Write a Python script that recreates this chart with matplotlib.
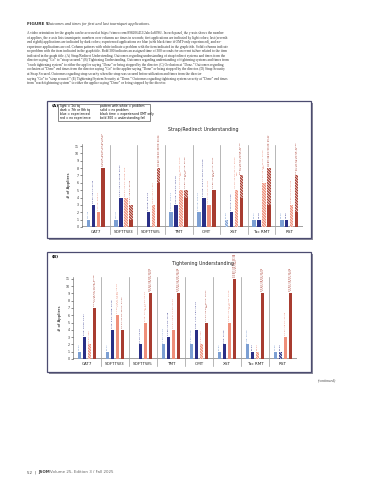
import numpy as np
import matplotlib.pyplot as plt
from matplotlib.patches import Rectangle

W, H = 369, 480

groups = ["CAT7", "SOFTTW3", "SOFTTW5", "TMT", "OMT", "XST", "Tac RMT", "RST"]

# Panel A: Strap/Redirect Understanding (solid part, patterned part)
a_lb_solid = [1, 1, 0, 2, 2, 0, 1, 1]
a_lb_hatch = [0, 0, 0, 0, 0, 1, 0, 0]
a_nv_solid = [3, 4, 2, 3, 4, 2, 1, 1]
a_nv_hatch = [0, 0, 0, 0, 0, 0, 0, 0]
a_sa_solid = [2, 0, 0, 0, 3, 0, 0, 0]
a_sa_hatch = [0, 4, 3, 5, 0, 5, 6, 3]
a_dr_solid = [8, 1, 6, 4, 5, 4, 3, 2]
a_dr_hatch = [0, 2, 2, 1, 0, 3, 5, 5]

a_lb_lab = ["121.35", "120.97", "", "120.61, 120.23", "116.75, 120.36", "20.68", "28.11", "36.25"]
a_nv_lab = ["63.25, 26.72, 24.43", "19.67, 26.05, 28.08, 20.34", "118.08, 113.48", "105.29, 119.19, 118.78",
            "113.86, 116.23, 120.40, 113.56", "119.14, 27.93", "31.78", "73.56"]
a_sa_lab = ["113.43, 226.47", "28.94, 22.66, 36.85, 300", "29.22, 30.17, 300", "54.49, 50.16, 38.84, 43.56, 300",
            "41.17, 37.76, 33.87", "41.18, 40.62, 51.17, 39.90, 300", "27.39, 35.18, 45.04, 40.63, 300",
            "92.65, 27.68, 54.95"]
a_dr_lab = ["113.28, 28.26, 25.28, 26.92, 43.19, 36.55, 42.75, 30.28", "25.37, 28.68, 30.39",
            "31.13, 34.87, 38.50, 41.27, 35.95, 43.81, 26.11, 22.56", "30.80, 46.84, 42.79, 36.39, 56.75",
            "30.85, 31.58, 25.77, 26.01, 34.87", "50.21, 34.97, 46.58, 39.70, 43.63, 47.14, 27.97",
            "41.69, 33.97, 50.42, 46.77, 29.87, 38.57, 44.24, 37.91", "36.41, 37.16, 52.55, 29.34, 50.29, 38.87, 27.44"]

# Panel B: Tightening Understanding
b_lb_solid = [1, 1, 0, 2, 2, 1, 2, 1]
b_lb_hatch = [0, 0, 0, 0, 0, 0, 0, 0]
b_nv_solid = [3, 4, 2, 3, 4, 2, 1, 0]
b_nv_hatch = [0, 0, 0, 0, 0, 0, 0, 1]
b_sa_solid = [0, 6, 5, 4, 0, 5, 0, 3]
b_sa_hatch = [2, 0, 0, 0, 2, 0, 1, 0]
b_dr_solid = [7, 4, 9, 9, 5, 11, 9, 9]
b_dr_hatch = [0, 0, 0, 0, 0, 0, 0, 0]

b_lb_lab = ["13.92", "15.11", "", "21.58, 11.09", "13.65, 9.58", "10.81", "7.85, 26.69", "22.65"]
b_nv_lab = ["8.26, 13.80, 14.27", "9.42, 6.64, 28.88, 43.18", "10.18, 13.26", "11.95, 14.29, 19.48",
            "6.60, 7.48, 7.87, 13.35", "9.56, 11.06", "25.34", "18.33"]
b_sa_lab = ["26.99, 300", "17.06, 19.6, 13.65, 19.91, 24.13, 37.59", "8.45, 10.27, 13.63, 24.95, 25.11",
            "10.97, 26.8, 27.38, 37.87", "21.53, 300", "13.55, 24.20, 27.86, 13.15, 33.35", "29.34",
            "12.51, 18.97, 22.28"]
b_dr_lab = ["15.07, 26.63, 19.65, 35.68, 37.56, 24.26, 300", "15.44, 31.94, 38.27, 27.34",
            "20.13, 23.33, 29.84, 33.48, 25.31, 10.24, 19.96, 32.03, 300",
            "13.33, 17.78, 22.44, 16.73, 33.44, 28.48, 21.98, 30.13, 300", "27.44, 22.61, 30.14, 19.57, 300",
            "12.29, 16.98, 19.45, 27.51, 17.38, 11.48, 19.41, 22.98, 23.48, 27.37, 300",
            "13.44, 18.87, 21.84, 24.83, 18.69, 20.13, 27.14, 19.18, 300",
            "16.53, 19.89, 21.37, 12.49, 15.35, 16.58, 18.73, 22.11, 300"]

caption = [
    "A video orientation for the graphs can be accessed at https://vimeo.com/898206452/2abc1a8996/. In each panel, the y-axis shows the number",
    "of appliers, the x-axis lists tourniquets; numbers over columns are times in seconds; first applications are indicated by light colors; last (seventh",
    "and eighth) applications are indicated by dark colors; experienced applications are blue (with black time if OMT-only experienced), and no-",
    "experience applications are red. Column patterns with white indicate a problem with the item indicated in the graph title. Solid columns indicate",
    "no problem with the item indicated in the graph title. Bold 300 indicates an assigned time of 300 seconds for an event failure related to the item",
    "indicated in the graph title. (A) Strap/Redirect Understanding. Outcomes regarding understanding of strap/redirect systems and times from the",
    "director saying \u201cGo\u201d to \u201cstrap secured.\u201d (B) Tightening Understanding. Outcomes regarding understanding of tightening systems and times from",
    "\u201creach tightening system\u201d to either the applier saying \u201cDone\u201d or being stopped by the director. (C) Occlusion at \u201cDone.\u201d Outcomes regarding",
    "occlusion at \u201cDone\u201d and times from the director saying \u201cGo\u201d to the applier saying \u201cDone\u201d or being stopped by the director. (D) Strap Security",
    "at Strap Secured. Outcomes regarding strap security when the strap was secured before utilization and times from the director",
    "saying \u201cGo\u201d to \u201cstrap secured.\u201d (E) Tightening/System Security at \u201cDone.\u201d Outcomes regarding tightening system security at \u201cDone\u201d and times",
    "from \u201creach tightening system\u201d to either the applier saying \u201cDone\u201d or being stopped by the director.",
]

legend_left = ["light = 1st tq", "dark = 7th or 8th tq", "blue = experienced", "red = no experience"]
legend_right = ["pattern with white = problem", "solid = no problem",
                "black time = experienced OMT only", "bold 300 = understanding fail"]

colors = ["#7c9fd3", "#2a2f86", "#ef8f7a", "#a83c30"]
text_colors = ["#6f93cc", "#2a2f86", "#ea8570", "#a83c30"]
offsets = [-0.27, -0.09, 0.09, 0.27]
bw = 0.13

plt.rcParams['hatch.linewidth'] = 0.45
fig = plt.figure(figsize=(W / 100, H / 100), dpi=100)


def fx(x):
    return x / W


def fy(y):
    return 1 - y / H


def wrap(s):
    # times stacked in short columns above a bar
    parts = [p.strip() for p in s.split(",")]
    n = 3 if len(parts) > 8 else 4
    return "\n".join(", ".join(parts[i:i + n]) for i in range(0, len(parts), n))


# page text
fig.text(fx(27), fy(24), "FIGURE 5", fontsize=3.1, fontweight="bold", family="DejaVu Sans",
         color="#333333", va="center")
fig.text(fx(47), fy(24), "Outcomes and times for first and last tourniquet applications.", fontsize=3.0,
         style="italic", family="Liberation Serif", color="#333333", va="center")
for i, line in enumerate(caption):
    fig.text(fx(27), fy(33 + i * 4.55), line, fontsize=2.55, family="Liberation Serif",
             color="#333333", va="center")

fig.text(fx(27), fy(472), "52  |  ", fontsize=2.9, color="#444444", va="center")
fig.text(fx(38), fy(472), "JSOM", fontsize=2.9, fontweight="bold", color="#444444", va="center")
fig.text(fx(50), fy(472), "Volume 25, Edition 3 / Fall 2025", fontsize=2.9, color="#666666", va="center")
fig.text(fx(318), fy(380), "(continued)", fontsize=2.8, style="italic", family="Liberation Serif",
         color="#444444", va="center")


def panel_box(x0, y0, x1, y1, label):
    sh = Rectangle((fx(x0 + 2), fy(y1 + 2)), fx(x1 - x0), (y1 - y0) / H, transform=fig.transFigure,
                   facecolor="#8c8c9c", edgecolor="none", zorder=-3)
    fig.patches.append(sh)
    box = Rectangle((fx(x0), fy(y1)), fx(x1 - x0), (y1 - y0) / H, transform=fig.transFigure,
                    facecolor="white", edgecolor="#4c4c70", lw=0.9, zorder=-2)
    fig.patches.append(box)
    fig.text(fx(x0 + 5), fy(y0 + 5), label, fontsize=3.0, fontweight="bold", va="center")


panel_box(47, 101, 311, 238, "(A)")
panel_box(47, 252, 311, 372, "(B)")

# legend box in panel A
lg = Rectangle((fx(58), fy(121)), fx(92), 17 / H, transform=fig.transFigure,
               facecolor="white", edgecolor="#333333", lw=0.4, zorder=1)
fig.patches.append(lg)
for i in range(4):
    fig.text(fx(60), fy(106 + i * 4), legend_left[i], fontsize=2.2, va="center")
    fig.text(fx(100), fy(106 + i * 4), legend_right[i], fontsize=2.2, va="center")


def draw_panel(x0, x1, ybase, ppu, title, ty, solids, hatches, labels):
    top = 11.3
    ax = fig.add_axes([fx(x0), fy(ybase), fx(x1 - x0), top * ppu / H])
    ax.set_xlim(-0.5, 7.5)
    ax.set_ylim(0, top)
    x = np.arange(len(groups))
    for k in range(4):
        s = np.array(solids[k])
        h = np.array(hatches[k])
        ax.bar(x + offsets[k], s, bw, color=colors[k], lw=0, zorder=3)
        ax.bar(x + offsets[k], h, bw, bottom=s, color=colors[k], edgecolor="white", lw=0,
               hatch="\\" * 12, zorder=3)
        for g in range(len(groups)):
            if labels[k][g]:
                ax.text(x[g] + offsets[k], s[g] + h[g] + 0.25, wrap(labels[k][g]), rotation=90,
                        ha="center", va="bottom", fontsize=1.7, linespacing=1.0,
                        color=text_colors[k], clip_on=False, zorder=4)
    for g in range(len(groups) - 1):
        ax.plot([g + 0.5, g + 0.5], [-1.0, 11.2], color="#9a9a9a", lw=0.5, clip_on=False, zorder=1)
    ax.axhline(0, color="#a0a0a0", lw=1.4, zorder=2)
    ax.set_yticks(range(12))
    ax.tick_params(axis="y", labelsize=2.3, length=1.5, width=0.4, pad=0.8, colors="#333333")
    ax.set_xticks(x)
    ax.set_xticklabels(groups)
    ax.tick_params(axis="x", labelsize=3.0, length=0, pad=2.2, colors="#222222")
    for sp in ["top", "right", "bottom"]:
        ax.spines[sp].set_visible(False)
    ax.spines["left"].set_linewidth(0.4)
    ax.spines["left"].set_color("#555555")
    ax.set_ylabel("# of Appliers", fontsize=2.8, labelpad=2.5)
    ax.patch.set_visible(False)
    fig.text(fx(203), fy(ty), title, fontsize=3.4, ha="center", va="center", color="#222222")
    return ax


draw_panel(82, 303, 227, 7.36, "Strap/Redirect Understanding", 130,
           [a_lb_solid, a_nv_solid, a_sa_solid, a_dr_solid],
           [a_lb_hatch, a_nv_hatch, a_sa_hatch, a_dr_hatch],
           [a_lb_lab, a_nv_lab, a_sa_lab, a_dr_lab])
draw_panel(73, 297, 359, 7.3, "Tightening Understanding", 263,
           [b_lb_solid, b_nv_solid, b_sa_solid, b_dr_solid],
           [b_lb_hatch, b_nv_hatch, b_sa_hatch, b_dr_hatch],
           [b_lb_lab, b_nv_lab, b_sa_lab, b_dr_lab])

fig.savefig("out.png", dpi=100)
